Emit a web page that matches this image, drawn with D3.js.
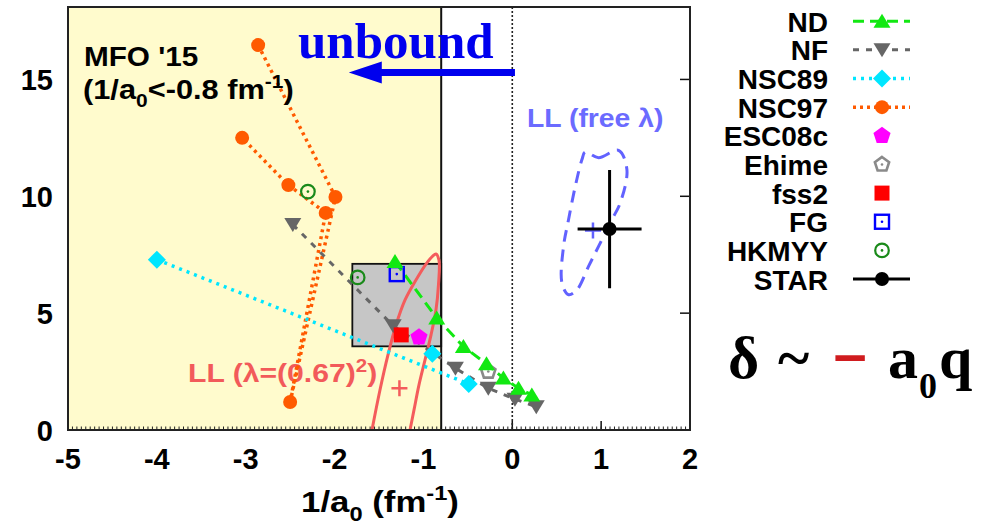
<!DOCTYPE html>
<html><head><meta charset="utf-8">
<script src="https://cdn.jsdelivr.net/npm/d3@7"></script>
<style>body{margin:0;background:#fff}svg{display:block}</style>
</head><body>
<svg id="chart" width="998" height="527"></svg>
<script>
// ---- data (x = 1/a0 in fm^-1, y = effective range in fm) ----
const xTicks = [-5, -4, -3, -2, -1, 0, 1, 2];
const yTicks = [0, 5, 10, 15];

const ndX = [-1.32, -0.85, -0.55, -0.29, -0.10, 0.07, 0.22];
const ndY = [7.21, 4.79, 3.57, 2.83, 2.22, 1.79, 1.50];

const nfX = [-2.47, -1.34, -0.64, -0.27, 0.03, 0.27];
const nfY = [8.79, 4.46, 2.64, 1.79, 1.32, 1.00];

const nsc89X = [-4.00, -0.49, -0.90];
const nsc89Y = [7.29, 1.97, 3.26];
const nsc89Joined = [true, true, false];

const nsc97X = [-2.86, -1.99, -2.50, -2.10, -2.52, -3.04];
const nsc97Y = [16.47, 9.97, 1.20, 9.29, 10.48, 12.50];

const esc08cX = [-1.05], esc08cY = [3.97];
const ehimeX = [-0.27], ehimeY = [2.50];
const fss2X = [-1.25], fss2Y = [4.07];
const fgX = [-1.30], fgY = [6.67];
const hkmyyX = [-2.30, -1.74], hkmyyY = [10.20, 6.53];

const starX = [1.095], starY = [8.60];
const starXErr = [0.36], starYErr = [2.53];

// LL correlation fit contours
const llLamX = [-1.579, -1.489, -1.399, -1.309, -1.208, -1.084, -0.971, -0.893, -0.859, -0.825, -0.831, -0.859, -0.915, -0.982, -1.050, -1.106, -1.151];
const llLamY = [0, 1.71, 3.21, 4.49, 5.56, 6.42, 7.10, 7.45, 7.53, 7.27, 6.20, 5.13, 4.06, 3.00, 1.93, 0.86, 0];
const llLamBest = [-1.27, 1.79];

const llFreeX = [0.821, 0.971, 1.196, 1.290, 1.215, 1.121, 0.971, 0.858, 0.728, 0.633, 0.559, 0.577, 0.633, 0.709, 0.784];
const llFreeY = [11.89, 11.65, 11.97, 11.14, 9.72, 9.00, 7.86, 7.00, 6.00, 5.79, 6.29, 7.86, 9.00, 10.43, 11.57];
const llFreeBest = [0.908, 8.54];

// MFO'15 allowed box and unbound boundary
const boxX = [-1.8, -0.8], boxY = [3.58, 7.11];
const unboundEdge = -0.8;

const legendNames = ['ND', 'NF', 'NSC89', 'NSC97', 'ESC08c', 'Ehime', 'fss2', 'FG', 'HKMYY', 'STAR'];

// ---- styles ----
const styles = {
  ND:     {color: '#12e812', marker: 'triUp',   dash: '11,6', width: 3},
  NF:     {color: '#666666', marker: 'triDown', dash: '6,7',  width: 3},
  NSC89:  {color: '#00e6ff', marker: 'diamond', dash: '3,5',  width: 3.5},
  NSC97:  {color: '#ff5a00', marker: 'circle',  dash: '3,4',  width: 3.5},
  ESC08c: {color: '#ff00ff', marker: 'pentagon'},
  Ehime:  {color: '#8a8a8a', marker: 'openPentagon'},
  fss2:   {color: '#ff0000', marker: 'square'},
  FG:     {color: '#0000ff', marker: 'openSquare'},
  HKMYY:  {color: '#1a8a1a', marker: 'openCircle'},
  STAR:   {color: '#000000', marker: 'star', dash: null, width: 3}
};
const SANS = 'Liberation Sans, Arial, sans-serif';
const SERIF = 'Liberation Serif, Times New Roman, serif';

const svg = d3.select('#chart');
const x = d3.scaleLinear().domain([-5, 2]).range([68, 690]);
const y = d3.scaleLinear().domain([0, 18.1]).range([430, 7]);
const [X0, X1] = x.range();
const [Y0, Y1] = [y.range()[1], y.range()[0]];

function marker(g, kind, cx, cy, color) {
  const poly = (r, n, rot) => d3.range(n).map(k => {
    const a = rot + k * 2 * Math.PI / n;
    return [cx + r * Math.cos(a), cy + r * Math.sin(a)];
  });
  switch (kind) {
    case 'triUp':
      g.append('path').attr('d', `M${cx},${cy - 7.5}L${cx + 8.5},${cy + 6.5}L${cx - 8.5},${cy + 6.5}Z`).attr('fill', color); break;
    case 'triDown':
      g.append('path').attr('d', `M${cx},${cy + 7.5}L${cx + 8.5},${cy - 6.5}L${cx - 8.5},${cy - 6.5}Z`).attr('fill', color); break;
    case 'diamond':
      g.append('path').attr('d', `M${cx},${cy - 9}L${cx + 9},${cy}L${cx},${cy + 9}L${cx - 9},${cy}Z`).attr('fill', color); break;
    case 'circle':
      g.append('circle').attr('cx', cx).attr('cy', cy).attr('r', 7).attr('fill', color); break;
    case 'pentagon':
      g.append('polygon').attr('points', poly(9, 5, -Math.PI / 2).join(' ')).attr('fill', color); break;
    case 'openPentagon':
      g.append('polygon').attr('points', poly(7.5, 5, -Math.PI / 2).join(' ')).attr('fill', 'none')
        .attr('stroke', color).attr('stroke-width', 2.6);
      g.append('circle').attr('cx', cx).attr('cy', cy).attr('r', 1.3).attr('fill', color); break;
    case 'square':
      g.append('rect').attr('x', cx - 7.5).attr('y', cy - 7.5).attr('width', 15).attr('height', 15).attr('fill', color); break;
    case 'openSquare':
      g.append('rect').attr('x', cx - 7).attr('y', cy - 7).attr('width', 14).attr('height', 14).attr('fill', 'none')
        .attr('stroke', color).attr('stroke-width', 2.4);
      g.append('circle').attr('cx', cx).attr('cy', cy).attr('r', 1.3).attr('fill', color); break;
    case 'openCircle':
      g.append('circle').attr('cx', cx).attr('cy', cy).attr('r', 6.8).attr('fill', 'none')
        .attr('stroke', color).attr('stroke-width', 2.2);
      g.append('circle').attr('cx', cx).attr('cy', cy).attr('r', 1.3).attr('fill', color); break;
    case 'star':
      g.append('circle').attr('cx', cx).attr('cy', cy).attr('r', 7).attr('fill', color); break;
  }
}

// text with sub/superscript pieces: [str, 'n'|'sub'|'sup'], optional horizontal stretch
function rich(g, px, py, parts, size, opts = {}) {
  const holder = g.append('g').attr('transform', `translate(${px},${py}) scale(${opts.sx || 1},1)`);
  const t = holder.append('text').attr('x', 0).attr('y', 0)
    .attr('font-family', opts.family || SANS).attr('font-weight', 'bold')
    .attr('font-size', size).attr('fill', opts.color || '#000')
    .attr('text-anchor', opts.anchor || 'start');
  let shift = 0;
  parts.forEach(([s, kind]) => {
    const target = kind === 'sub' ? size * 0.3 : kind === 'sup' ? -size * 0.4 : 0;
    t.append('tspan').attr('dy', target - shift)
      .attr('font-size', kind === 'n' ? size : size * 0.68).text(s);
    shift = target;
  });
  return t;
}

const line = d3.line().x(d => x(d[0])).y(d => y(d[1]));
const zip = (a, b) => a.map((v, i) => [v, b[i]]);

// ---- ticks under the shaded region ----
const axisG = svg.append('g');
xTicks.forEach(v => axisG.append('line').attr('x1', x(v)).attr('x2', x(v)).attr('y1', Y1).attr('y2', Y1 - 9)
  .attr('stroke', '#111').attr('stroke-width', 1.5));
yTicks.filter(v => v > 0).forEach(v => axisG.append('line').attr('x1', X1).attr('x2', X1 - 10).attr('y1', y(v)).attr('y2', y(v))
  .attr('stroke', '#111').attr('stroke-width', 1.5));

// ---- shaded "unbound" region ----
svg.append('rect').attr('x', X0).attr('y', Y0).attr('width', x(unboundEdge) - X0).attr('height', Y1 - Y0)
  .attr('fill', '#fffbcd');

// minor ticks along the bottom
d3.range(-5, 2.0001, 0.05).forEach(v => svg.append('line').attr('x1', x(v)).attr('x2', x(v))
  .attr('y1', Y1).attr('y2', Y1 - 3.5).attr('stroke', '#222').attr('stroke-width', 1));

// MFO'15 box
svg.append('rect').attr('x', x(boxX[0])).attr('y', y(boxY[1]))
  .attr('width', x(boxX[1]) - x(boxX[0])).attr('height', y(boxY[0]) - y(boxY[1]))
  .attr('fill', '#c6c6c6').attr('stroke', '#111').attr('stroke-width', 1.8);

// boundary and zero lines
svg.append('line').attr('x1', x(unboundEdge)).attr('x2', x(unboundEdge)).attr('y1', Y0).attr('y2', Y1)
  .attr('stroke', '#111').attr('stroke-width', 2);
svg.append('line').attr('x1', x(0)).attr('x2', x(0)).attr('y1', Y0).attr('y2', Y1)
  .attr('stroke', '#222').attr('stroke-width', 1.6).attr('stroke-dasharray', '2,2');

// contour labels
rich(svg, 188, 382, [['LL (λ=(0.67)', 'n'], ['2', 'sup'], [')', 'n']], 26, {color: '#f25a5a', sx: 1.16});
rich(svg, 527, 127, [['LL (free λ)', 'n']], 26, {color: '#6b6bff', sx: 1.09});

// contours
svg.append('path').attr('d', line.curve(d3.curveCatmullRom)(zip(llLamX, llLamY)))
  .attr('fill', 'none').attr('stroke', '#f45c5c').attr('stroke-width', 3);
svg.append('path').attr('d', line.curve(d3.curveCatmullRomClosed)(zip(llFreeX, llFreeY)))
  .attr('fill', 'none').attr('stroke', '#6262ff').attr('stroke-width', 3).attr('stroke-dasharray', '12,8');
line.curve(d3.curveLinear);
[[llLamBest, '#f45c5c'], [llFreeBest, '#6262ff']].forEach(([p, c]) => {
  const cx = x(p[0]), cy = y(p[1]);
  svg.append('path').attr('d', `M${cx - 8},${cy}H${cx + 8}M${cx},${cy - 8}V${cy + 8}`)
    .attr('stroke', c).attr('stroke-width', 2.5);
});

// model lines
const lineG = svg.append('g').attr('fill', 'none');
function seriesLine(pts, st) {
  lineG.append('path').attr('d', line(pts)).attr('stroke', st.color)
    .attr('stroke-width', st.width).attr('stroke-dasharray', st.dash);
}
seriesLine(zip(nsc97X, nsc97Y), styles.NSC97);
seriesLine(zip(nsc89X, nsc89Y).filter((d, i) => nsc89Joined[i]), styles.NSC89);
seriesLine(zip(nfX, nfY), styles.NF);
seriesLine(zip(ndX, ndY), styles.ND);

// markers
const mG = svg.append('g');
const pointSets = [
  ['NSC97', nsc97X, nsc97Y], ['NSC89', nsc89X, nsc89Y], ['NF', nfX, nfY],
  ['HKMYY', hkmyyX, hkmyyY], ['fss2', fss2X, fss2Y], ['ESC08c', esc08cX, esc08cY],
  ['FG', fgX, fgY], ['Ehime', ehimeX, ehimeY], ['ND', ndX, ndY]
];
pointSets.forEach(([name, xs, ys]) => xs.forEach((v, i) => marker(mG, styles[name].marker, x(v), y(ys[i]), styles[name].color)));

// STAR measurement with error bars
starX.forEach((v, i) => {
  const cx = x(v), cy = y(starY[i]);
  svg.append('path').attr('d', `M${x(v - starXErr[i])},${cy}H${x(v + starXErr[i])}M${cx},${y(starY[i] + starYErr[i])}V${y(starY[i] - starYErr[i])}`)
    .attr('stroke', '#000').attr('stroke-width', 3);
  marker(svg, 'star', cx, cy, '#000');
});

// frame
svg.append('rect').attr('x', X0).attr('y', Y0).attr('width', X1 - X0).attr('height', Y1 - Y0)
  .attr('fill', 'none').attr('stroke', '#222').attr('stroke-width', 2);

// tick labels
xTicks.forEach(v => svg.append('text').attr('x', x(v)).attr('y', 469).attr('text-anchor', 'middle')
  .attr('font-family', SANS).attr('font-weight', 'bold').attr('font-size', 29).text(String(v)));
yTicks.forEach(v => svg.append('text').attr('x', 53).attr('y', y(v) + 10.5).attr('text-anchor', 'end')
  .attr('font-family', SANS).attr('font-weight', 'bold').attr('font-size', 29).text(String(v)));

// axis title
rich(svg, 380, 512, [['1/a', 'n'], ['0', 'sub'], [' (fm', 'n'], ['-1', 'sup'], [')', 'n']], 30, {anchor: 'middle', sx: 1.16});

// MFO'15 annotation
rich(svg, 84, 66, [["MFO '15", 'n']], 27, {sx: 1.1});
rich(svg, 83, 99, [['(1/a', 'n'], ['0', 'sub'], ['<-0.8 fm', 'n'], ['-1', 'sup'], [')', 'n']], 27, {sx: 1.14});

// unbound arrow
const arrowY = 15.3, tail = x(0.03), tip = x(-1.84);
svg.append('path').attr('d', `M${tail},${y(arrowY) - 3.5}H${tip + 33}V${y(arrowY) - 11}L${tip},${y(arrowY)}L${tip + 33},${y(arrowY) + 11}V${y(arrowY) + 3.5}H${tail}Z`)
  .attr('fill', '#0000ee');
svg.append('text').attr('x', 298).attr('y', 58).attr('font-family', SERIF).attr('font-weight', 'bold')
  .attr('font-size', 51).attr('fill', '#0000ee').text('unbound');

// legend
legendNames.forEach((name, i) => {
  const by = 31.7 + i * 28.65, cy = by - 10.5, st = styles[name];
  svg.append('text').attr('x', 828).attr('y', by).attr('text-anchor', 'end')
    .attr('font-family', SANS).attr('font-weight', 'bold').attr('font-size', 28).text(name);
  if (st.width) {
    svg.append('line').attr('x1', 853).attr('x2', 910).attr('y1', cy).attr('y2', cy)
      .attr('stroke', st.color).attr('stroke-width', st.width).attr('stroke-dasharray', st.dash);
  }
  marker(svg, st.marker, 882, cy, st.color);
});

// phase shift relation
const f = svg.append('text').attr('y', 378).attr('font-family', SERIF).attr('font-weight', 'bold').attr('font-size', 60);
f.append('tspan').attr('x', 728).text('δ');
f.append('tspan').attr('x', 778).text('~');
f.append('tspan').attr('x', 833).attr('fill', '#d01c1f').attr('stroke', '#d01c1f').attr('stroke-width', 1.5).text('−');
f.append('tspan').attr('x', 888).text('a');
f.append('tspan').attr('x', 919).attr('dy', 20).attr('font-size', 36).text('0');
f.append('tspan').attr('x', 939).attr('dy', -20).text('q');
</script>
</body></html>
